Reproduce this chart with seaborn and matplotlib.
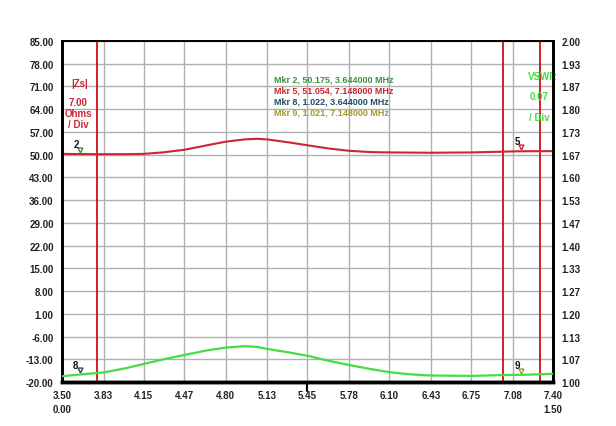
import matplotlib
matplotlib.use("Agg")
from matplotlib import pyplot as plt
from matplotlib import transforms
import pandas
import seaborn

# frequency sweep (MHz) with |Zs| (ohms) and VSWR
freq = [3.50, 3.644, 3.83, 4.00, 4.15, 4.30, 4.47, 4.64, 4.80, 4.95, 5.05, 5.13,
        5.30, 5.45, 5.62, 5.78, 5.95, 6.10, 6.25, 6.43, 6.75, 7.08, 7.148, 7.40]
zs = [50.25, 50.18, 50.15, 50.15, 50.25, 50.70, 51.50, 52.80, 54.00, 54.70, 54.90, 54.70,
      53.80, 52.90, 51.90, 51.20, 50.80, 50.70, 50.65, 50.60, 50.70, 51.00, 51.05, 51.10]
vswr = [1.017, 1.022, 1.028, 1.040, 1.053, 1.066, 1.079, 1.092, 1.101, 1.105, 1.103, 1.097,
        1.087, 1.077, 1.062, 1.050, 1.038, 1.029, 1.023, 1.019, 1.018, 1.021, 1.021, 1.024]

# markers: number, frequency, value, which trace
mkr_num = [2, 5, 8, 9]
mkr_freq = [3.644, 7.148, 3.644, 7.148]
mkr_val = [50.175, 51.054, 1.022, 1.021]
mkr_trace = ['zs', 'zs', 'vswr', 'vswr']
mkr_color = ['#3f8f3f', '#d02030', '#1f4f5f', '#a09a30']

cursor_freq = [3.775, 7.00, 7.30]

x_ticks = [3.50, 3.83, 4.15, 4.47, 4.80, 5.13, 5.45, 5.78, 6.10, 6.43, 6.75, 7.08, 7.40]
zs_ticks = [-20 + 7 * i for i in range(16)]
vswr_ticks = [1 + i / 15 for i in range(16)]

RED = '#cc2535'
GREEN = '#44dd44'

seaborn.set_style('white')
plt.rcParams['font.family'] = ['Liberation Sans', 'DejaVu Sans']
plt.rcParams['font.weight'] = 'bold'

frame = pandas.DataFrame({'freq': freq, 'zs': zs, 'vswr': vswr})

fig = plt.figure(figsize=(6.16, 4.27), dpi=100)
ax = fig.add_axes([0.1006, 0.103, 0.797, 0.7986])
ax2 = ax.twinx()

ax.set_xlim(3.50, 7.40)
ax.set_ylim(-20, 85)
ax2.set_ylim(1.0, 2.0)

ax.set_xticks(x_ticks)
xlabels = ['%.2f' % t for t in x_ticks]
xlabels[0] = '3.50\n0.00'
xlabels[-1] = '7.40\n1.50'
ax.set_xticklabels(xlabels, fontsize=7, fontweight='bold', va='top', linespacing=1.45)
ax.set_yticks(zs_ticks)
ax.set_yticklabels(['%.2f' % t for t in zs_ticks], fontsize=7, fontweight='bold')
ax2.set_yticks(vswr_ticks)
ax2.set_yticklabels(['%.2f' % t for t in vswr_ticks], fontsize=7, fontweight='bold')
ax.tick_params(length=0, pad=6, colors='#222222')
ax2.tick_params(length=0, pad=6, colors='#222222')

ax.grid(True, color='#b0b0b0', linewidth=1)
ax2.grid(False)

for a in (ax, ax2):
    for side, lw in (('left', 2), ('bottom', 2.5), ('right', 2), ('top', 1.2)):
        a.spines[side].set_visible(True)
        a.spines[side].set_color('black')
        a.spines[side].set_linewidth(lw)

for cf in cursor_freq:
    ax.axvline(cf, color='#cc1111', linewidth=1.3, zorder=3)

# small tick under the center frequency
ax.plot([5.45, 5.45], [0, -0.025], color='black', linewidth=1.5,
        transform=ax.get_xaxis_transform(), clip_on=False)

seaborn.lineplot(data=frame, x='freq', y='zs', ax=ax, color=RED, linewidth=1.5, zorder=4)
seaborn.lineplot(data=frame, x='freq', y='vswr', ax=ax2, color=GREEN, linewidth=1.6, zorder=4)
ax.set_xlabel('')
ax.set_ylabel('')
ax2.set_ylabel('')

for num, f, v, tr, c in zip(mkr_num, mkr_freq, mkr_val, mkr_trace, mkr_color):
    a = ax if tr == 'zs' else ax2
    off = transforms.offset_copy(a.transData, fig=fig, x=0, y=3, units='points')
    a.plot([f], [v], marker='v', markersize=3.5, markerfacecolor='none',
           markeredgecolor=c, markeredgewidth=1, transform=off, zorder=6)
    a.annotate(str(num), (f, v), xytext=(-5, 5), textcoords='offset points',
               fontsize=7, fontweight='bold', color='#111111')

# marker readout
legend_lines = ['Mkr %d, %.3f, %.6f MHz' % (n, v, f) for n, v, f in zip(mkr_num, mkr_val, mkr_freq)]
for i, (txt, c) in enumerate(zip(legend_lines, mkr_color)):
    ax.text(0.432, 0.889 - i * 0.0323, txt, transform=ax.transAxes, fontsize=6.5,
            fontweight='bold', color=c, va='center', ha='left')

# scale annotations
ax.text(0.035, 0.877, '|Zs|', transform=ax.transAxes, fontsize=7, fontweight='bold',
        color=RED, ha='center', va='center')
ax.text(0.033, 0.835, '7.00\nOhms\n/ Div', transform=ax.transAxes, fontsize=7,
        fontweight='bold', color=RED, ha='center', va='top', linespacing=1.1)
ax.text(0.978, 0.898, 'VSWR', transform=ax.transAxes, fontsize=7, fontweight='bold',
        color=GREEN, ha='center', va='center')
ax.text(0.972, 0.840, '0.07', transform=ax.transAxes, fontsize=7, fontweight='bold',
        color=GREEN, ha='center', va='center')
ax.text(0.972, 0.778, '/ Div', transform=ax.transAxes, fontsize=7, fontweight='bold',
        color=GREEN, ha='center', va='center')

fig.savefig('out.png', dpi=100, facecolor='white')
